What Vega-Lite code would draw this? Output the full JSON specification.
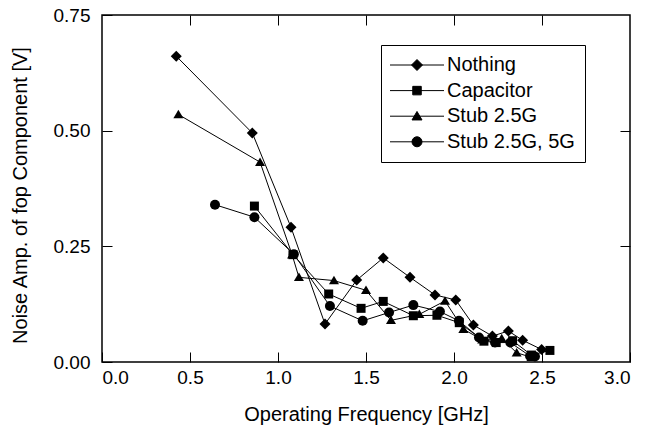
{
  "$schema": "https://vega.github.io/schema/vega-lite/v6.json",
  "autosize": {"type": "none"},
  "width": 528,
  "height": 347,
  "padding": {"left": 102, "top": 15, "right": 15, "bottom": 70},
  "background": "white",
  "config": {
    "view": {"stroke": "black", "strokeWidth": 1.5},
    "font": "Liberation Sans",
    "axis": {"grid": false, "domain": false, "labelFont": "Liberation Sans", "titleFont": "Liberation Sans", "labelColor": "black", "titleColor": "black", "tickColor": "black", "tickWidth": 1, "labelFontSize": 19, "titleFontSize": 20, "titleFontWeight": "normal"},
    "legend": {"labelFont": "Liberation Sans", "labelFontSize": 20, "labelColor": "black"}
  },
  "data": {"values": [
    {"series": "Nothing", "f": 0.422, "v": 0.661},
    {"series": "Nothing", "f": 0.854, "v": 0.495},
    {"series": "Nothing", "f": 1.074, "v": 0.291},
    {"series": "Nothing", "f": 1.267, "v": 0.082},
    {"series": "Nothing", "f": 1.447, "v": 0.177},
    {"series": "Nothing", "f": 1.598, "v": 0.225},
    {"series": "Nothing", "f": 1.75, "v": 0.183},
    {"series": "Nothing", "f": 1.892, "v": 0.145},
    {"series": "Nothing", "f": 2.01, "v": 0.134},
    {"series": "Nothing", "f": 2.11, "v": 0.08},
    {"series": "Nothing", "f": 2.218, "v": 0.056},
    {"series": "Nothing", "f": 2.309, "v": 0.067},
    {"series": "Nothing", "f": 2.39, "v": 0.047},
    {"series": "Nothing", "f": 2.498, "v": 0.027},
    {"series": "Capacitor", "f": 0.866, "v": 0.337},
    {"series": "Capacitor", "f": 1.085, "v": 0.232},
    {"series": "Capacitor", "f": 1.288, "v": 0.147},
    {"series": "Capacitor", "f": 1.472, "v": 0.116},
    {"series": "Capacitor", "f": 1.598, "v": 0.131},
    {"series": "Capacitor", "f": 1.769, "v": 0.1},
    {"series": "Capacitor", "f": 1.903, "v": 0.101},
    {"series": "Capacitor", "f": 2.03, "v": 0.085},
    {"series": "Capacitor", "f": 2.17, "v": 0.045},
    {"series": "Capacitor", "f": 2.24, "v": 0.042},
    {"series": "Capacitor", "f": 2.333, "v": 0.046},
    {"series": "Capacitor", "f": 2.44, "v": 0.015},
    {"series": "Capacitor", "f": 2.545, "v": 0.025},
    {"series": "Stub 2.5G", "f": 0.434, "v": 0.535},
    {"series": "Stub 2.5G", "f": 0.898, "v": 0.432},
    {"series": "Stub 2.5G", "f": 1.08, "v": 0.232},
    {"series": "Stub 2.5G", "f": 1.119, "v": 0.183},
    {"series": "Stub 2.5G", "f": 1.318, "v": 0.176},
    {"series": "Stub 2.5G", "f": 1.5, "v": 0.155},
    {"series": "Stub 2.5G", "f": 1.642, "v": 0.09},
    {"series": "Stub 2.5G", "f": 1.803, "v": 0.103},
    {"series": "Stub 2.5G", "f": 1.949, "v": 0.132},
    {"series": "Stub 2.5G", "f": 2.053, "v": 0.071},
    {"series": "Stub 2.5G", "f": 2.16, "v": 0.048},
    {"series": "Stub 2.5G", "f": 2.271, "v": 0.051},
    {"series": "Stub 2.5G", "f": 2.356, "v": 0.02},
    {"series": "Stub 2.5G", "f": 2.44, "v": 0.01},
    {"series": "Stub 2.5G, 5G", "f": 0.642, "v": 0.34},
    {"series": "Stub 2.5G, 5G", "f": 0.866, "v": 0.313},
    {"series": "Stub 2.5G, 5G", "f": 1.09, "v": 0.233},
    {"series": "Stub 2.5G, 5G", "f": 1.295, "v": 0.121},
    {"series": "Stub 2.5G, 5G", "f": 1.481, "v": 0.089},
    {"series": "Stub 2.5G, 5G", "f": 1.631, "v": 0.107},
    {"series": "Stub 2.5G, 5G", "f": 1.769, "v": 0.123},
    {"series": "Stub 2.5G, 5G", "f": 1.92, "v": 0.109},
    {"series": "Stub 2.5G, 5G", "f": 2.028, "v": 0.089},
    {"series": "Stub 2.5G, 5G", "f": 2.142, "v": 0.053},
    {"series": "Stub 2.5G, 5G", "f": 2.233, "v": 0.042},
    {"series": "Stub 2.5G, 5G", "f": 2.32, "v": 0.042},
    {"series": "Stub 2.5G, 5G", "f": 2.432, "v": 0.013},
    {"series": "Stub 2.5G, 5G", "f": 2.46, "v": 0.012}
  ]},
  "resolve": {"axis": {"x": "independent", "y": "independent"}, "scale": {"shape": "independent"}, "legend": {"shape": "independent"}},
  "layer": [
    {
      "mark": {"type": "line", "color": "black", "strokeWidth": 1},
      "encoding": {
        "x": {"field": "f", "type": "quantitative", "scale": {"domain": [0, 3], "nice": false, "zero": false},
              "axis": {"orient": "bottom", "values": [0, 0.5, 1, 1.5, 2, 2.5, 3], "format": ".1f", "tickSize": -10, "labelPadding": 16, "title": "Operating Frequency [GHz]", "titleY": 52, "titleBaseline": "middle"}},
        "y": {"field": "v", "type": "quantitative", "scale": {"domain": [0, 0.75], "nice": false, "zero": false},
              "axis": {"orient": "left", "values": [0, 0.25, 0.5, 0.75], "format": ".2f", "tickSize": -10, "labelPadding": 22, "title": "Noise Amp. of fop Component [V]", "titleX": -82, "titleY": 180, "titleBaseline": "middle", "titleAngle": -90}},
        "detail": {"field": "series", "type": "nominal"}
      }
    },
    {
      "mark": {"type": "point", "filled": true, "color": "black", "opacity": 1, "size": 100, "strokeWidth": 0},
      "encoding": {
        "x": {"field": "f", "type": "quantitative", "scale": {"domain": [0, 3], "nice": false, "zero": false},
              "axis": {"orient": "top", "values": [0.5, 1, 1.5, 2, 2.5], "labels": false, "tickSize": -10, "title": null}},
        "y": {"field": "v", "type": "quantitative", "scale": {"domain": [0, 0.75], "nice": false, "zero": false},
              "axis": {"orient": "right", "values": [0.25, 0.5], "labels": false, "tickSize": -10, "title": null}},
        "shape": {"field": "series", "type": "nominal",
                  "scale": {"domain": ["Nothing", "Capacitor", "Stub 2.5G", "Stub 2.5G, 5G"],
                            "range": ["M0,-1.1L1.1,0L0,1.1L-1.1,0Z", "M-0.9,-0.9H0.9V0.9H-0.9Z", "M0,-0.95L1,0.75L-1,0.75Z", "circle"]},
                  "legend": null}
      }
    },
    {
      "transform": [{"filter": "false"}],
      "mark": {"type": "point", "filled": true, "fill": "black", "stroke": "black", "strokeWidth": 1, "opacity": 1, "size": 100},
      "encoding": {
        "x": {"field": "f", "type": "quantitative", "scale": {"domain": [0, 3], "nice": false, "zero": false}, "axis": null},
        "y": {"field": "v", "type": "quantitative", "scale": {"domain": [0, 0.75], "nice": false, "zero": false}, "axis": null},
        "shape": {"field": "series", "type": "nominal",
                  "scale": {"domain": ["Nothing", "Capacitor", "Stub 2.5G", "Stub 2.5G, 5G"],
                            "range": ["M-5.4,0H5.4M0,-1.1L1.1,0L0,1.1L-1.1,0Z", "M-5.4,0H5.4M-0.85,-0.85H0.85V0.85H-0.85Z", "M-5.4,0H5.4M0,-0.95L1,0.75L-1,0.75Z", "M-5.4,0H5.4M-1,0A1,1,0,1,0,1,0A1,1,0,1,0,-1,0Z"]},
                  "legend": {"orient": "none", "legendX": 279, "legendY": 30, "title": null, "strokeColor": "black", "padding": 10, "symbolSize": 100, "symbolStrokeWidth": 1, "symbolOpacity": 1, "symbolOffset": 16, "labelOffset": 20, "rowPadding": 5.6, "labelFontSize": 20}}
      }
    }
  ]
}
